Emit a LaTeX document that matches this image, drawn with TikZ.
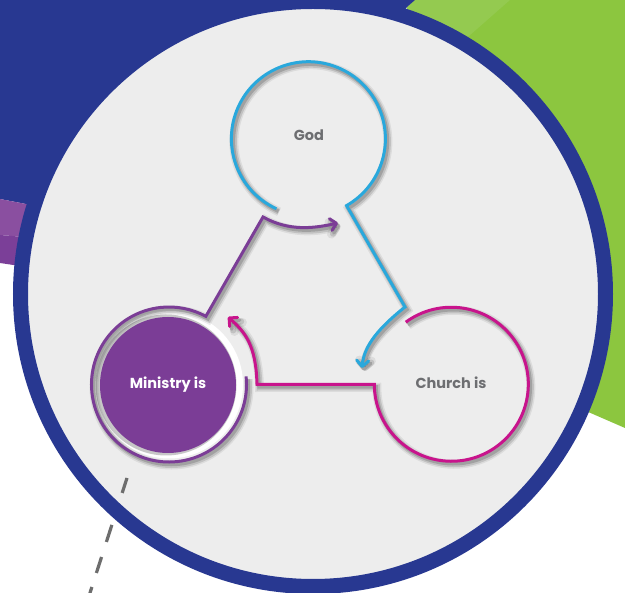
\documentclass[tikz,border=0pt]{standalone}
\usepackage{fontspec}
\newfontfamily\lblfont{Poppins}
\usetikzlibrary{arrows.meta}
\definecolor{ringblue}{HTML}{283891}
\definecolor{bggreen}{HTML}{8CC63F}
\definecolor{lightgreen}{HTML}{94CA50}
\definecolor{lpurple}{HTML}{8A4FA0}
\definecolor{dpurple}{HTML}{7B3F98}
\definecolor{mpurple}{HTML}{7B3D96}
\definecolor{godblue}{HTML}{29A8DC}
\definecolor{chmag}{HTML}{C8148C}
\definecolor{diskgray}{HTML}{EDEDED}
\definecolor{txtgray}{HTML}{6D6E71}
\definecolor{dashgray}{HTML}{6D6D6D}
\begin{document}
\begin{tikzpicture}[x=1pt,y=1pt,
  shad/.style={preaction={draw=black,opacity=0.07,line width=9pt,transform canvas={shift={(2.5pt,-3pt)}}},
               preaction={draw=black,opacity=0.12,line width=6pt,transform canvas={shift={(2.5pt,-3pt)}}},
               preaction={draw=black,opacity=0.16,line width=3.5pt,transform canvas={shift={(2pt,-2.5pt)}}}},
  conn/.style={line width=3pt,line join=miter},
  tip/.style={-{Straight Barb[length=6pt,width=12pt,round]}},
  holder/.style={circle,inner sep=0pt,outer sep=0pt},
  labeltext/.style={font=\lblfont\bfseries\fontsize{14.5}{16}\selectfont}]
\useasboundingbox (0,0) rectangle (625,-593);
\fill[white] (0,0) rectangle (625,-593);
% background shapes
\fill[bggreen] (407,-7) -- (415,0) -- (625,0) -- (625,-428) -- (400,-330) -- cycle;
\fill[lightgreen] (407,-7) -- (415,0) -- (510,0) -- (420,-79) -- cycle;
\fill[ringblue] (0,0) -- (415,0) -- (407,-7) -- (300,-150) -- (26,-204) -- (0,-199) -- cycle;
\fill[lpurple] (0,-199) -- (26,-204) -- (60,-212) -- (60,-240) -- (0,-235) -- cycle;
\fill[dpurple] (0,-235) -- (60,-240) -- (60,-272) -- (0,-263) -- cycle;
% main disk
\fill[diskgray] (313,-294) circle[radius=293pt];
\coordinate (dstart) at (127,-478);
\coordinate (dend) at (87.7,-600);
\draw[dashgray,line width=3.2pt,dash pattern=on 15.7pt off 33.6pt on 17.9pt off 15.8pt on 16.8pt off 14.7pt on 20pt off 20pt] (dstart) -- (dend);
\draw[ringblue,line width=15pt] (313,-294) circle[radius=292.5pt];
% holders
\node[holder,minimum size=154pt] (god) at (309,-139) {};
\node[holder,minimum size=154pt] (church) at (451,-384.5) {};
\node[holder,minimum size=155pt] (mring) at (169,-384.5) {};
% ministry filled disk
\fill[white] (169,-384.5) circle[radius=74pt];
\fill[black!22] (166,-385) circle[radius=70.5pt];
\fill[mpurple] (168,-385) circle[radius=68pt];
% connector points
\coordinate (pc1) at (263,-217);
\coordinate (pend) at (338,-223);
\coordinate (bc1) at (405,-307);
\coordinate (bend) at (362,-368);
\coordinate (mc1) at (257,-384.5);
\coordinate (mend) at (228,-317);
% paths
\draw[godblue,conn,shad,tip] (god.245.5) arc[start angle=245.5,end angle=-60.3,radius=77pt] -- (bc1) .. controls (380,-327) and (364,-345) .. (bend);
\draw[chmag,conn,shad,tip] (church.126.3) arc[start angle=126.3,end angle=-180,radius=77pt] -- (mc1) .. controls (256,-345) and (245,-332) .. (mend);
\draw[mpurple,conn,shad,tip] (mring.6) arc[start angle=6,end angle=-298.4,radius=77.5pt] -- (pc1) .. controls (290,-232) and (315,-228) .. (pend);
% labels
\node[labeltext,text=txtgray] (godtxt) at (309,-135) {God};
\node[labeltext,text=txtgray] (churchtxt) at (451,-383) {Church is};
\node[labeltext,text=white] (minitxt) at (168,-385) {Ministry is};
\end{tikzpicture}
\end{document}
